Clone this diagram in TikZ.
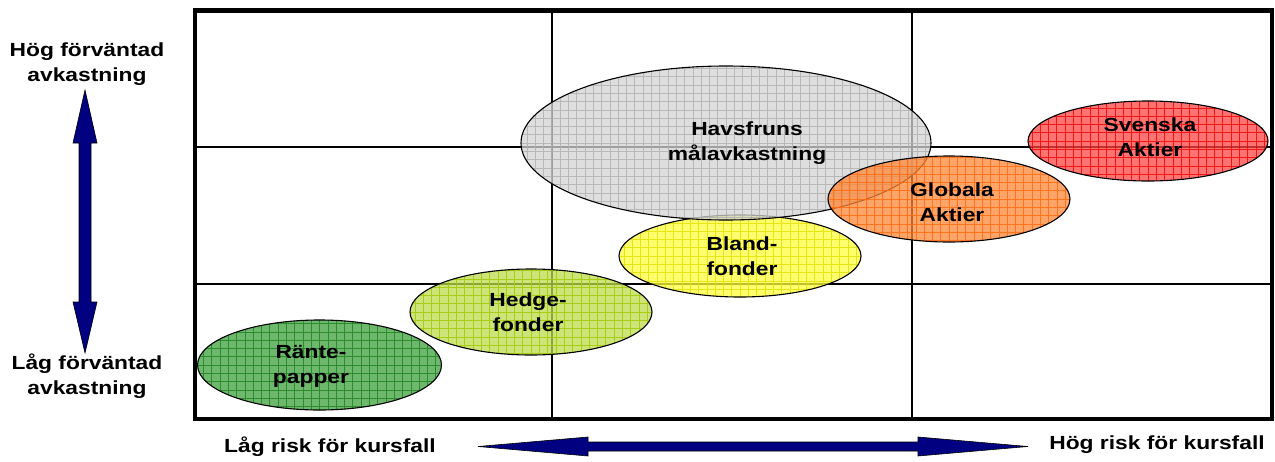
\documentclass[tikz,border=0pt]{standalone}
\usepackage{fontspec}
\setmainfont{Liberation Sans}[FakeStretch=1.2]
\usetikzlibrary{shapes.geometric}
\definecolor{navyarrow}{RGB}{0,0,128}
\definecolor{rantefill}{RGB}{60,160,60}
\definecolor{rantegrid}{RGB}{30,130,30}
\definecolor{hedgefill}{RGB}{188,219,75}
\definecolor{hedgegrid}{RGB}{160,200,0}
\definecolor{blandfill}{RGB}{255,255,62}
\definecolor{blandgrid}{RGB}{225,225,0}
\definecolor{havfill}{RGB}{211,211,211}
\definecolor{havgrid}{RGB}{175,175,175}
\definecolor{globfill}{RGB}{255,135,55}
\definecolor{globgrid}{RGB}{255,105,10}
\definecolor{svefill}{RGB}{255,68,68}
\definecolor{svegrid}{RGB}{240,0,0}
\begin{document}
\begin{tikzpicture}[x=1pt,y=-1pt,
  lbl/.style={font=\bfseries\fontsize{19}{25}\selectfont, align=center, inner sep=0pt, text=black},
  blob/.style 2 args={ellipse, draw=black, line width=1.1pt, inner sep=0pt, outer sep=0pt,
     minimum width=#1, minimum height=#2, fill opacity=0.75},
  gridded/.style={path picture={\draw[#1, line width=0.55pt, opacity=0.8, step=8.3pt]
     ([shift={(-10pt,-10pt)}]path picture bounding box.south west) grid ([shift={(10pt,10pt)}]path picture bounding box.north east);}},
  bigarrow/.style={fill=navyarrow, draw=black, line width=0.6pt, line join=miter}
]
\useasboundingbox (0,0) rectangle (1275,461);
% quadrant lines
\draw[line width=2pt] (552,10.5) -- (552,419);
\draw[line width=2pt] (912,10.5) -- (912,419);
\draw[line width=2pt] (195,147) -- (1272,147);
\draw[line width=2pt] (195,284) -- (1272,284);
% ellipses
\node[blob={244pt}{90pt}, fill=rantefill, gridded=rantegrid] (rante) at (319.5,365) {};
\node[blob={242pt}{86pt}, fill=hedgefill, gridded=hedgegrid] (hedge) at (531,312) {};
\node[blob={242pt}{82pt}, fill=blandfill, gridded=blandgrid] (bland) at (740,256) {};
\node[blob={410pt}{154pt}, fill=havfill, gridded=havgrid] (havs) at (726,143) {};
\node[blob={242pt}{86pt}, fill=globfill, gridded=globgrid] (glob) at (949,199) {};
\node[blob={240pt}{80pt}, fill=svefill, gridded=svegrid] (sve) at (1148,141) {};
% ellipse labels
\node[lbl] (tr) at (311,366) {Ränte-\\papper};
\node[lbl] (th) at (528,312) {Hedge-\\fonder};
\node[lbl] (tb) at (742,256) {Bland-\\fonder};
\node[lbl] (tv) at (747,143) {Havsfruns\\målavkastning};
\node[lbl] (tg) at (952,202) {Globala\\Aktier};
\node[lbl] (ts) at (1150,137) {Svenska\\Aktier};
% frame
\draw[line width=4.5pt] (195,10.5) rectangle (1272,419);
% vertical arrow
\draw[bigarrow] (85,90) -- (97,143) -- (91,143) -- (91,302) -- (97,302) -- (85,353)
  -- (73,302) -- (79,302) -- (79,143) -- (73,143) -- cycle;
% horizontal arrow
\draw[bigarrow] (478,446.5) -- (588,437) -- (588,442) -- (918,442) -- (918,437) -- (1028,446.5)
  -- (918,456) -- (918,451) -- (588,451) -- (588,456) -- cycle;
% axis labels
\node[lbl] (hog) at (87,64) {Hög förväntad\\avkastning};
\node[lbl] (lag) at (87,376) {Låg förväntad\\avkastning};
\node[lbl] (lrisk) at (330,447) {Låg risk för kursfall};
\node[lbl] (hrisk) at (1157,445) {Hög risk för kursfall};
\end{tikzpicture}
\end{document}
